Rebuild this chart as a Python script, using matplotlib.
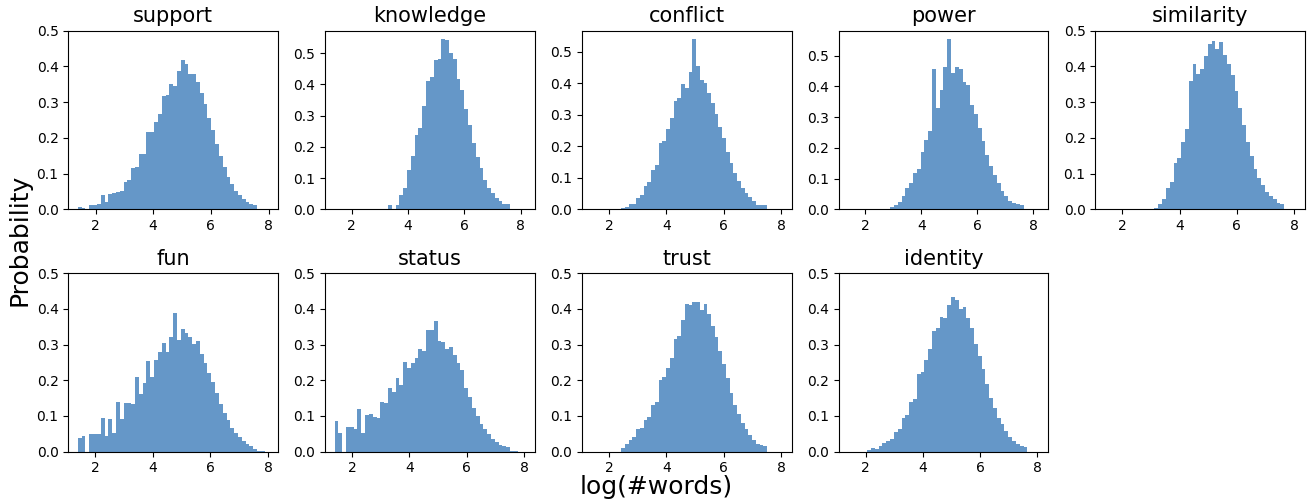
import numpy as np
import matplotlib
matplotlib.use('Agg')
import matplotlib.pyplot as plt

# histogramas de log(#words) por categoria (50 bins, densidade)
titles = ['support', 'knowledge', 'conflict', 'power', 'similarity',
          'fun', 'status', 'trust', 'identity']

x_min = 1.386  # log(4)
x_max = [8.0, 8.16, 8.03, 8.2, 8.05, 8.02, 8.04, 8.03, 8.05]

support = [0.006, 0.004, 0.0, 0.012, 0.012, 0.015, 0.040, 0.021, 0.043, 0.046,
           0.048, 0.050, 0.077, 0.082, 0.115, 0.118, 0.155, 0.155, 0.216, 0.216,
           0.243, 0.266, 0.316, 0.321, 0.352, 0.345, 0.386, 0.417, 0.406, 0.378,
           0.378, 0.356, 0.325, 0.295, 0.255, 0.221, 0.183, 0.148, 0.118, 0.090,
           0.072, 0.052, 0.039, 0.029, 0.020, 0.016, 0.012, 0.0, 0.0, 0.0]
knowledge = [0.0] * 14 + [0.013, 0.0, 0.013, 0.046, 0.067, 0.126, 0.171, 0.238, 0.262, 0.331,
                          0.412, 0.425, 0.478, 0.483, 0.545, 0.541, 0.500, 0.481, 0.418, 0.382,
                          0.320, 0.271, 0.213, 0.168, 0.131, 0.095, 0.068, 0.052, 0.035, 0.025,
                          0.017, 0.017, 0.0, 0.0, 0.0, 0.0]
conflict = [0.0] * 8 + [0.003, 0.007, 0.015, 0.018, 0.035, 0.045, 0.074, 0.087, 0.125, 0.141,
                        0.210, 0.217, 0.255, 0.289, 0.344, 0.353, 0.397, 0.385, 0.436, 0.540,
                        0.455, 0.410, 0.400, 0.369, 0.339, 0.304, 0.261, 0.227, 0.181, 0.146,
                        0.116, 0.089, 0.068, 0.052, 0.039, 0.025, 0.014, 0.014, 0.014, 0.0,
                        0.0, 0.0, 0.0]
power = [0.0] * 11 + [0.006, 0.014, 0.024, 0.043, 0.070, 0.085, 0.118, 0.130, 0.187, 0.225,
                      0.255, 0.456, 0.330, 0.388, 0.462, 0.554, 0.444, 0.462, 0.456, 0.416,
                      0.406, 0.341, 0.310, 0.264, 0.221, 0.177, 0.140, 0.113, 0.085, 0.060,
                      0.044, 0.028, 0.021, 0.018, 0.014, 0.0, 0.0, 0.0, 0.0]
similarity = [0.0] * 13 + [0.003, 0.015, 0.029, 0.060, 0.077, 0.129, 0.143, 0.188, 0.226, 0.360,
                           0.406, 0.378, 0.392, 0.430, 0.463, 0.471, 0.448, 0.468, 0.432, 0.408,
                           0.375, 0.331, 0.283, 0.236, 0.189, 0.150, 0.114, 0.087, 0.067, 0.049,
                           0.036, 0.028, 0.018, 0.016, 0.0, 0.0, 0.0]
fun = [0.038, 0.045, 0.0, 0.049, 0.049, 0.049, 0.094, 0.044, 0.091, 0.052,
       0.139, 0.091, 0.136, 0.136, 0.133, 0.209, 0.162, 0.192, 0.253, 0.209,
       0.256, 0.278, 0.305, 0.278, 0.321, 0.387, 0.313, 0.343, 0.332, 0.321,
       0.301, 0.309, 0.274, 0.249, 0.221, 0.195, 0.163, 0.133, 0.107, 0.088,
       0.067, 0.052, 0.040, 0.029, 0.021, 0.015, 0.008, 0.003, 0.001, 0.0]
status = [0.086, 0.052, 0.0, 0.069, 0.069, 0.064, 0.119, 0.052, 0.103, 0.105,
          0.098, 0.094, 0.138, 0.136, 0.178, 0.167, 0.206, 0.187, 0.251, 0.234,
          0.247, 0.262, 0.287, 0.282, 0.340, 0.340, 0.365, 0.309, 0.306, 0.287,
          0.292, 0.270, 0.247, 0.228, 0.177, 0.152, 0.122, 0.101, 0.076, 0.063,
          0.048, 0.035, 0.028, 0.019, 0.016, 0.014, 0.003, 0.001, 0.0, 0.0]
trust = [0.0] * 8 + [0.010, 0.021, 0.032, 0.040, 0.064, 0.066, 0.088, 0.097, 0.131, 0.139,
                     0.200, 0.209, 0.234, 0.262, 0.315, 0.325, 0.369, 0.413, 0.411, 0.420,
                     0.420, 0.398, 0.413, 0.385, 0.353, 0.320, 0.281, 0.246, 0.206, 0.163,
                     0.130, 0.105, 0.080, 0.062, 0.046, 0.033, 0.021, 0.019, 0.016, 0.0,
                     0.0, 0.0, 0.0]
identity = [0.0] * 5 + [0.004, 0.010, 0.008, 0.017, 0.024, 0.029, 0.034, 0.055, 0.064, 0.094,
                        0.102, 0.138, 0.146, 0.217, 0.222, 0.256, 0.287, 0.337, 0.346, 0.378,
                        0.375, 0.410, 0.433, 0.424, 0.399, 0.404, 0.374, 0.345, 0.301, 0.268,
                        0.232, 0.190, 0.151, 0.121, 0.095, 0.077, 0.057, 0.040, 0.029, 0.020,
                        0.015, 0.012, 0.0, 0.0, 0.0]

series = [support, knowledge, conflict, power, similarity, fun, status, trust, identity]

fig, axes = plt.subplots(2, 5, figsize=(13.13, 5.04), dpi=100)
fig.subplots_adjust(left=0.052, right=0.994, top=0.939, bottom=0.104,
                    wspace=0.224, hspace=0.358)
axes = axes.flatten()

for i in range(len(titles)):
    ax = axes[i]
    h = np.array(series[i])
    edges = np.linspace(x_min, x_max[i], len(h) + 1)
    centers = (edges[:-1] + edges[1:]) / 2
    ax.hist(centers, bins=edges, weights=h, color='#6597c8')
    if h.max() < 0.5:
        ax.set_ylim(0, 0.5)
    ax.set_xticks([2, 4, 6, 8])
    ax.set_title(titles[i], fontsize=15)

axes[9].axis('off')

fig.text(0.5, 0.034, 'log(#words)', ha='center', va='center', fontsize=18)
fig.text(0.015, 0.525, 'Probability', ha='center', va='center',
         rotation='vertical', fontsize=18)

plt.savefig('out.png')
